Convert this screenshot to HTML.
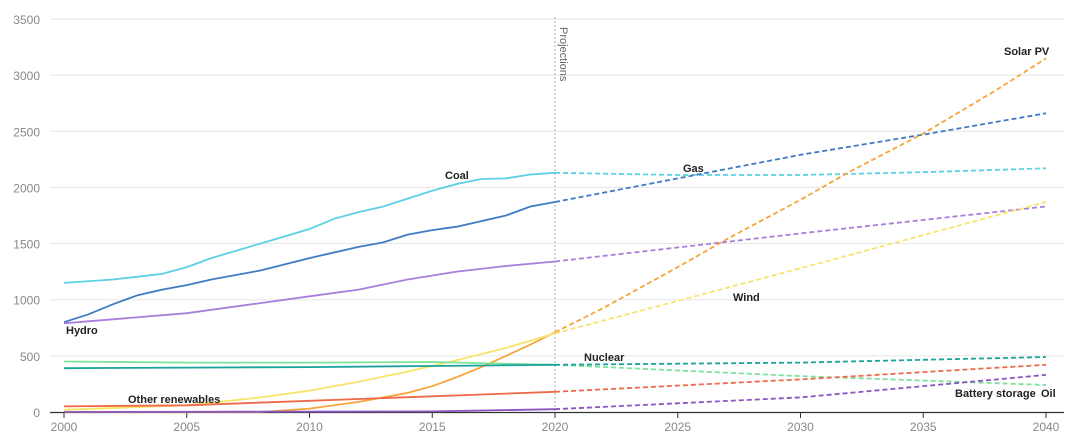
<!DOCTYPE html>
<html><head><meta charset="utf-8"><style>
html,body{margin:0;padding:0;background:#fff;width:1080px;height:440px;overflow:hidden}
text{font-family:"Liberation Sans",sans-serif}
</style></head><body>
<svg id="s" width="1080" height="440" xmlns="http://www.w3.org/2000/svg"></svg>
<script>
var X=function(y){return 64+(y-2000)*24.55},Y=function(v){return 412-v*0.1123};
var h='';
for(var v=500;v<=3500;v+=500){h+='<line x1="50" x2="1064" y1="'+Y(v)+'" y2="'+Y(v)+'" stroke="#e6e6e6" stroke-width="1"/>';}
for(var v=0;v<=3500;v+=500){h+='<text x="40" y="'+(Y(v)+5)+'" text-anchor="end" font-size="12" fill="#888">'+v+'</text>';}
h+='<line x1="50" x2="1064" y1="412.5" y2="412.5" stroke="#333" stroke-width="1.2"/>';
for(var y=2000;y<=2040;y+=5){h+='<line x1="'+X(y)+'" x2="'+X(y)+'" y1="412" y2="418" stroke="#333"/>';h+='<text x="'+X(y)+'" y="431" text-anchor="middle" font-size="12" fill="#888">'+y+'</text>';}
h+='<line x1="'+X(2020)+'" x2="'+X(2020)+'" y1="17" y2="412" stroke="#999" stroke-dasharray="2,2" stroke-width="0.8"/>';
h+='<text transform="translate(560,27) rotate(90)" font-size="11" fill="#666">Projections</text>';
function pl(pts,c,d){var s=pts.map(function(p){return X(p[0]).toFixed(1)+','+Y(p[1]).toFixed(1)}).join(' ');h+='<polyline points="'+s+'" fill="none" stroke="'+c+'" stroke-width="1.8"'+(d?' stroke-dasharray="5,3"':'')+'/>';}
var S=[
['#5bd0e6',[[2000,1150],[2002,1180],[2004,1230],[2005,1290],[2006,1370],[2008,1500],[2010,1630],[2011,1720],[2012,1780],[2013,1830],[2014,1900],[2015,1970],[2016,2030],[2017,2075],[2018,2080],[2019,2115],[2020,2130]],[[2020,2130],[2025,2110],[2030,2110],[2035,2135],[2040,2170]]],
['#3f7bc4',[[2000,800],[2001,870],[2002,960],[2003,1040],[2004,1090],[2005,1130],[2006,1180],[2008,1260],[2010,1370],[2012,1470],[2013,1510],[2014,1580],[2015,1620],[2016,1650],[2017,1700],[2018,1750],[2019,1830],[2020,1870]],[[2020,1870],[2025,2080],[2030,2290],[2035,2470],[2040,2660]]],
['#a97fdc',[[2000,790],[2005,880],[2008,970],[2010,1030],[2012,1090],[2014,1180],[2016,1250],[2018,1300],[2020,1340]],[[2020,1340],[2030,1590],[2040,1830]]],
['#f5a53a',[[2000,0],[2008,0],[2010,30],[2012,90],[2014,170],[2015,230],[2016,310],[2017,400],[2018,500],[2019,600],[2020,710]],[[2020,710],[2022,930],[2025,1290],[2027,1540],[2030,1890],[2032,2140],[2035,2480],[2038,2870],[2040,3150]]],
['#f7e46a',[[2000,20],[2005,60],[2008,130],[2010,190],[2012,270],[2014,360],[2016,460],[2018,570],[2020,700]],[[2020,700],[2030,1280],[2040,1870]]],
['#7ee29a',[[2000,450],[2005,440],[2010,440],[2015,445],[2020,420]],[[2020,420],[2030,320],[2040,240]]],
['#1aa39a',[[2000,390],[2005,395],[2010,400],[2015,410],[2020,420]],[[2020,420],[2030,440],[2040,490]]],
['#ee6a4a',[[2000,50],[2005,60],[2010,100],[2015,140],[2020,180]],[[2020,180],[2030,290],[2040,420]]],
['#8a55c0',[[2000,0],[2015,5],[2020,25]],[[2020,25],[2030,130],[2040,330]]]
];
S.forEach(function(s){pl(s[1],s[0],false);pl(s[2],s[0],true);});
function L(x,y,t){h+='<text x="'+x+'" y="'+y+'" font-size="11" font-weight="bold" fill="#222">'+t+'</text>';}
L(66,334,'Hydro');L(445,179,'Coal');L(683,172,'Gas');L(1004,55,'Solar PV');L(733,301,'Wind');L(584,361,'Nuclear');L(128,403,'Other renewables');L(955,397,'Battery storage');L(1041,397,'Oil');
document.getElementById('s').innerHTML=h;
</script>
</body></html>
